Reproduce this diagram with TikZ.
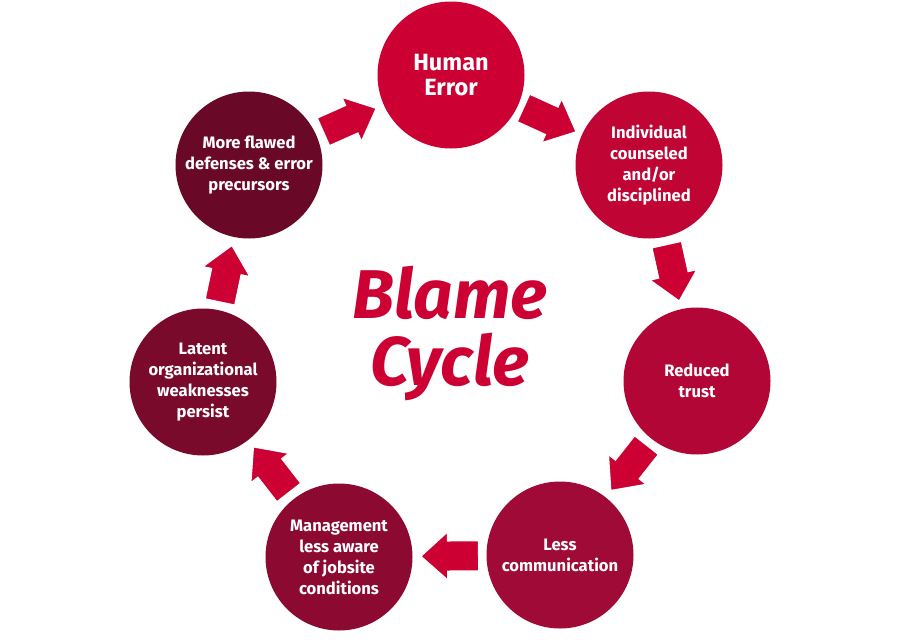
\documentclass[tikz,border=0pt]{standalone}
\usepackage{fontspec}
\setmainfont{Fira Sans}
\usetikzlibrary{calc}
\definecolor{arrowred}{RGB}{204,0,51}
\definecolor{cA}{RGB}{204,0,51}
\definecolor{cB}{RGB}{192,4,52}
\definecolor{cC}{RGB}{178,6,54}
\definecolor{cD}{RGB}{160,10,54}
\definecolor{cE}{RGB}{140,10,50}
\definecolor{cF}{RGB}{122,10,44}
\definecolor{cG}{RGB}{106,8,40}
\tikzset{
  stage/.style={circle, minimum size=147pt, inner sep=0pt, text=white, align=center,
    font=\bfseries\fontsize{16.6}{21}\selectfont},
  bigstage/.style={stage, font=\bfseries\fontsize{23.5}{25}\selectfont},
  blockarrow/.style={fill=arrowred, draw=white, line width=3pt, line join=miter},
  title/.style={text=arrowred, align=center, font=\bfseries\itshape\fontsize{69}{67}\selectfont}
}
\newcommand\blockarr[2]{%
  \pgfmathanglebetweenpoints{\pgfpointanchor{#1}{center}}{\pgfpointanchor{#2}{center}}%
  \let\arrang\pgfmathresult
  \begin{scope}[shift={($(#1.center)!0.5!(#2.center)$)}, rotate=\arrang]
    \path[blockarrow] (-30pt,-16pt) -- (1pt,-16pt) -- (1pt,-26pt) -- (30pt,0pt)
      -- (1pt,26pt) -- (1pt,16pt) -- (-30pt,16pt) -- cycle;
  \end{scope}}
\begin{document}
\begin{tikzpicture}[x=1pt,y=-1pt]
\useasboundingbox (0,0) rectangle (900,640);
\fill[white] (0,0) rectangle (900,640);
\node[bigstage, fill=cA] (he) at (451,75) {Human\\Error};
\node[stage, fill=cB] (ic) at (649,165) {Individual\\counseled\\and/or\\disciplined};
\node[stage, fill=cC] (rt) at (697,381) {Reduced\\trust};
\node[stage, fill=cD] (lc) at (560,555) {Less\\communication};
\node[stage, fill=cE] (ma) at (339,557) {Management\\less aware\\of jobsite\\conditions};
\node[stage, fill=cF] (lo) at (203,382) {Latent\\organizational\\weaknesses\\persist};
\node[stage, fill=cG] (mf) at (249,165) {More flawed\\defenses \& error\\precursors};
\blockarr{mf}{he}
\blockarr{he}{ic}
\blockarr{ic}{rt}
\blockarr{rt}{lc}
\blockarr{lc}{ma}
\blockarr{ma}{lo}
\blockarr{lo}{mf}
\node[title] (bc) at (450,333) {Blame\\Cycle};
\end{tikzpicture}
\end{document}
